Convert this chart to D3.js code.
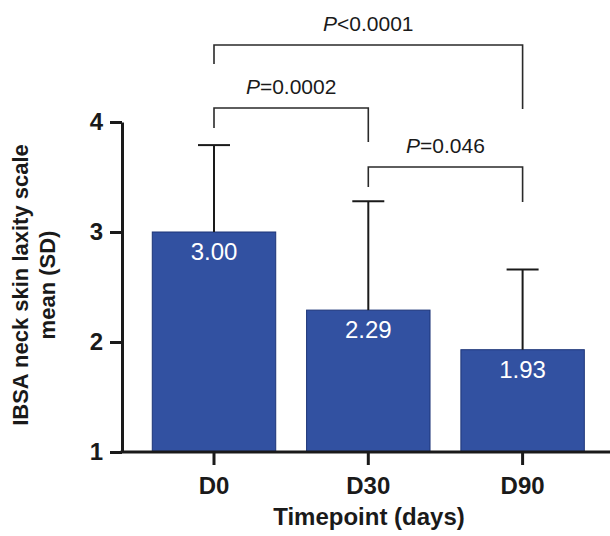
<!DOCTYPE html>
<html>
<head>
<meta charset="utf-8">
<script src="https://cdn.jsdelivr.net/npm/d3@7"></script>
<style>
  html, body { margin: 0; padding: 0; background: #fff; }
  svg { display: block; font-family: "Liberation Sans", Arial, Helvetica, sans-serif; }
</style>
</head>
<body>
<svg id="chart" width="610" height="536"></svg>
<script>
// ---- data ----
const categories = ["D0", "D30", "D90"];
const means = [3.00, 2.29, 1.93];
const sds = [0.79, 0.99, 0.73];
const meanLabels = ["3.00", "2.29", "1.93"];
const yTicks = [1, 2, 3, 4];
const comparisons = [
  { from: "D0", to: "D90", label: "<0.0001" },
  { from: "D0", to: "D30", label: "=0.0002" },
  { from: "D30", to: "D90", label: "=0.046" }
];
const yTitleLines = ["IBSA neck skin laxity scale", "mean (SD)"];
const xTitle = "Timepoint (days)";

// ---- layout (pixels) ----
const W = 610, H = 536;
const axisX = 122, axisBottom = 452, axisTop = 122;
// bracket geometry: bar y, left leg end, right leg end
const bracketLayout = [
  { y: 45, leftEnd: 64, rightEnd: 109 },
  { y: 108, leftEnd: 128, rightEnd: 142 },
  { y: 167, leftEnd: 187, rightEnd: 202 }
];
const barColor = "#3251a1";
const ink = "#1a1a1a";

const svg = d3.select("#chart");

const x = d3.scaleBand()
  .domain(categories)
  .range([136.85, 599.75])
  .paddingInner(0.2)
  .paddingOuter(0.1);

const y = d3.scaleLinear()
  .domain([1, 4])
  .range([axisBottom, axisTop]);

// bars
svg.append("g").selectAll("rect")
  .data(categories)
  .join("rect")
  .attr("x", d => x(d))
  .attr("width", x.bandwidth())
  .attr("y", (d, i) => y(means[i]))
  .attr("height", (d, i) => y(1) - y(means[i]))
  .attr("fill", barColor)
  .attr("stroke", "#1d3578")
  .attr("stroke-width", 1);

// error bars (upper only)
const eb = svg.append("g").attr("stroke", ink).attr("stroke-width", 2).attr("fill", "none");
categories.forEach((c, i) => {
  const cx = x(c) + x.bandwidth() / 2;
  eb.append("line").attr("x1", cx).attr("x2", cx)
    .attr("y1", y(means[i])).attr("y2", y(means[i] + sds[i]));
  eb.append("line").attr("x1", cx - 16).attr("x2", cx + 16)
    .attr("y1", y(means[i] + sds[i])).attr("y2", y(means[i] + sds[i]));
});

// value labels inside bars
svg.append("g").selectAll("text")
  .data(categories)
  .join("text")
  .attr("x", d => x(d) + x.bandwidth() / 2)
  .attr("y", (d, i) => y(means[i]) + 28)
  .attr("text-anchor", "middle")
  .attr("fill", "#fff")
  .attr("font-size", 24)
  .text((d, i) => meanLabels[i]);

// y axis
const yAxis = svg.append("g")
  .attr("transform", `translate(${axisX},0)`)
  .call(d3.axisLeft(y).tickValues(yTicks).tickFormat(d3.format("d")).tickSize(12).tickSizeOuter(0).tickPadding(7));
yAxis.select(".domain").attr("stroke", ink).attr("stroke-width", 3);
yAxis.selectAll(".tick line").attr("stroke", ink).attr("stroke-width", 3);
yAxis.selectAll(".tick text").attr("font-size", 24).attr("font-weight", "bold")
  .attr("fill", ink).attr("font-family", "Liberation Sans, Arial, sans-serif");

// x axis
const xAxis = svg.append("g")
  .attr("transform", `translate(0,${axisBottom})`)
  .call(d3.axisBottom(x).tickSize(13).tickSizeOuter(0));
xAxis.select(".domain").remove();
xAxis.append("line").attr("x1", axisX - 1.5).attr("x2", W).attr("y1", 0).attr("y2", 0)
  .attr("stroke", ink).attr("stroke-width", 3);
xAxis.selectAll(".tick line").attr("stroke", ink).attr("stroke-width", 3);
xAxis.selectAll(".tick text").attr("font-size", 24).attr("font-weight", "bold")
  .attr("fill", ink).attr("y", 41.5).attr("dy", 0)
  .attr("font-family", "Liberation Sans, Arial, sans-serif");

// axis titles
svg.append("text")
  .attr("x", 369).attr("y", 525)
  .attr("text-anchor", "middle")
  .attr("font-size", 24).attr("font-weight", "bold").attr("fill", ink)
  .text(xTitle);

const yTitle = svg.append("text")
  .attr("transform", "translate(28,285) rotate(-90)")
  .attr("text-anchor", "middle")
  .attr("font-size", 22).attr("font-weight", "bold").attr("fill", ink);
yTitleLines.forEach((t, i) => {
  yTitle.append("tspan").attr("x", 0).attr("y", i * 27).text(t);
});

// significance brackets
const br = svg.append("g");
comparisons.forEach((c, i) => {
  const L = bracketLayout[i];
  const x1 = x(c.from) + x.bandwidth() / 2;
  const x2 = x(c.to) + x.bandwidth() / 2;
  br.append("path")
    .attr("d", `M${x1},${L.leftEnd}V${L.y}H${x2}V${L.rightEnd}`)
    .attr("fill", "none").attr("stroke", "#2a2a2a").attr("stroke-width", 1.6);
  const t = br.append("text")
    .attr("x", (x1 + x2) / 2).attr("y", L.y - 14)
    .attr("text-anchor", "middle")
    .attr("font-size", 21).attr("fill", ink);
  t.append("tspan").attr("font-style", "italic").text("P");
  t.append("tspan").text(c.label);
});
</script>
</body>
</html>
